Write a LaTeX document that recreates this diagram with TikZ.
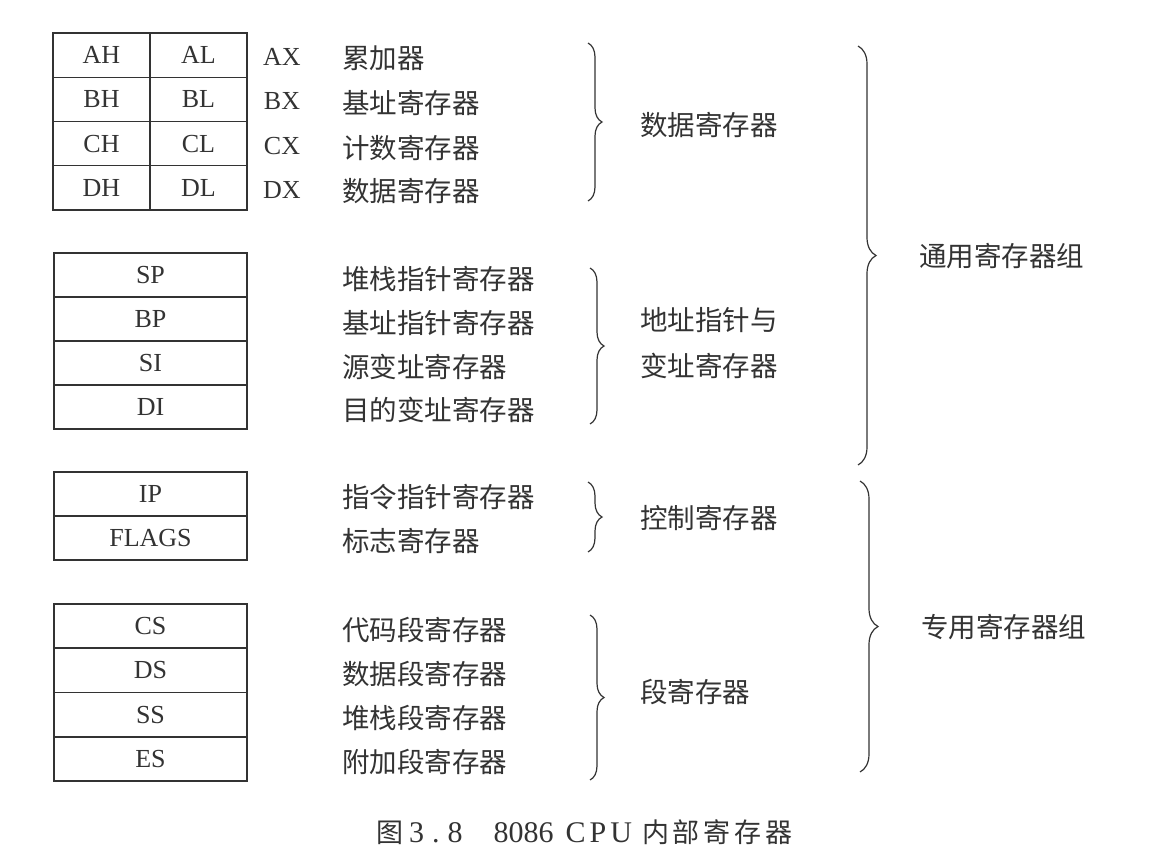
\documentclass[tikz,border=0pt]{standalone}
\usepackage{fontspec}
\setmainfont{Liberation Serif}
\newfontfamily\cjk{Noto Sans CJK SC}
\usetikzlibrary{decorations.pathreplacing}
\definecolor{ink}{HTML}{333333}
\begin{document}
\begin{tikzpicture}[x=1pt,y=-1pt,
  every node/.style={text=ink},
  cell/.style={draw=ink, line width=1.3pt, inner sep=0pt, outer sep=0pt, font=\fontsize{26}{30}\selectfont},
  half/.style={cell, minimum width=97pt, minimum height=44.25pt},
  full/.style={cell, minimum width=193pt, minimum height=44pt},
  reg/.style={font=\fontsize{26}{30}\selectfont},
  lbl/.style={anchor=west, inner sep=0pt, font=\cjk\fontsize{27.5}{30}\selectfont},
  grp/.style={anchor=west, inner sep=0pt, font=\cjk\fontsize{27.5}{46}\selectfont, align=left},
  brc/.style={draw=ink, line width=1.2pt, decorate, decoration={brace, amplitude=#1}}
]
\useasboundingbox (0,0) rectangle (1170,862);
\fill[white] (0,0) rectangle (1170,862);

% table 1
\node[half] (ah) at (101.5,55.1) {AH};
\node[half] (al) at (198.5,55.1) {AL};
\node[half] (bh) at (101.5,99.4) {BH};
\node[half] (bl) at (198.5,99.4) {BL};
\node[half] (ch) at (101.5,143.6) {CH};
\node[half] (cl) at (198.5,143.6) {CL};
\node[half] (dh) at (101.5,187.9) {DH};
\node[half] (dl) at (198.5,187.9) {DL};
\node[reg] (ax) at (282,57) {AX};
\node[reg] (bx) at (282,101) {BX};
\node[reg] (cx) at (282,146) {CX};
\node[reg] (dx) at (282,190) {DX};
\node[lbl] (l1) at (342,58) {累加器};
\node[lbl] (l2) at (342,103) {基址寄存器};
\node[lbl] (l3) at (342,148) {计数寄存器};
\node[lbl] (l4) at (342,191) {数据寄存器};

% table 2
\node[full] (sp) at (150.5,275) {SP};
\node[full] (bp) at (150.5,319) {BP};
\node[full] (si) at (150.5,363) {SI};
\node[full] (di) at (150.5,407) {DI};
\node[lbl] (l5) at (342,279) {堆栈指针寄存器};
\node[lbl] (l6) at (342,323) {基址指针寄存器};
\node[lbl] (l7) at (342,367) {源变址寄存器};
\node[lbl] (l8) at (342,410) {目的变址寄存器};

% table 3
\node[full] (ip) at (150.5,494) {IP};
\node[full] (fl) at (150.5,538) {FLAGS};
\node[lbl] (l9) at (342,497) {指令指针寄存器};
\node[lbl] (l10) at (342,541) {标志寄存器};

% table 4
\node[full] (cs) at (150.5,626.1) {CS};
\node[full] (ds) at (150.5,670.4) {DS};
\node[full] (ss) at (150.5,714.6) {SS};
\node[full] (es) at (150.5,758.9) {ES};
\node[lbl] (l11) at (342,630) {代码段寄存器};
\node[lbl] (l12) at (342,674) {数据段寄存器};
\node[lbl] (l13) at (342,718) {堆栈段寄存器};
\node[lbl] (l14) at (342,762) {附加段寄存器};

% small braces
\coordinate (b1t) at (588,43);  \coordinate (b1b) at (588,201);
\coordinate (b2t) at (590,268); \coordinate (b2b) at (590,424);
\coordinate (b3t) at (588,482); \coordinate (b3b) at (588,552);
\coordinate (b4t) at (590,615); \coordinate (b4b) at (590,780);
\draw[brc=14pt] (b1t) -- (b1b);
\draw[brc=14pt] (b2t) -- (b2b);
\draw[brc=14pt] (b3t) -- (b3b);
\draw[brc=14pt] (b4t) -- (b4b);
\node[grp] (g1) at (640,125) {数据寄存器};
\node[grp] (g2) at (640,343) {地址指针与\\变址寄存器};
\node[grp] (g3) at (640,518) {控制寄存器};
\node[grp] (g4) at (640,692) {段寄存器};

% big braces
\coordinate (B1t) at (858,46);  \coordinate (B1b) at (858,465);
\coordinate (B2t) at (860,481); \coordinate (B2b) at (860,772);
\draw[brc=18pt] (B1t) -- (B1b);
\draw[brc=18pt] (B2t) -- (B2b);
\node[grp] (G1) at (919,256) {通用寄存器组};
\node[grp] (G2) at (921,627) {专用寄存器组};

% caption
\node[anchor=west, inner sep=0pt, font=\fontsize{30}{32}\selectfont] (cap) at (376,832)
  {{\cjk\fontsize{27}{30}\selectfont 图}\hspace{6pt}3\hspace{8pt}.\hspace{8pt}8\hspace{31pt}8086\hspace{12pt}C\hspace{4pt}P\hspace{4pt}U\hspace{10pt}{\cjk\fontsize{27}{30}\selectfont 内\hspace{3.75pt}部\hspace{3.75pt}寄\hspace{3.75pt}存\hspace{3.75pt}器}};
\end{tikzpicture}
\end{document}
